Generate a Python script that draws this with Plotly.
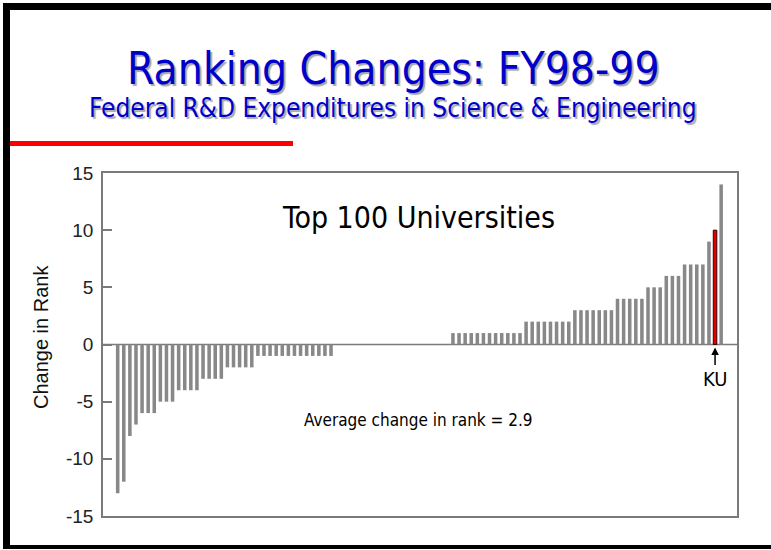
import plotly.graph_objects as go

# ---------------- data ----------------
rank_change = [
    -13, -12, -8, -7, -6, -6, -6, -5, -5, -5,
    -4, -4, -4, -4, -3, -3, -3, -3, -2, -2,
    -2, -2, -2, -1, -1, -1, -1, -1, -1, -1,
    -1, -1, -1, -1, -1, -1, 0, 0, 0, 0,
    0, 0, 0, 0, 0, 0, 0, 0, 0, 0,
    0, 0, 0, 0, 0, 1, 1, 1, 1, 1,
    1, 1, 1, 1, 1, 1, 1, 2, 2, 2,
    2, 2, 2, 2, 2, 3, 3, 3, 3, 3,
    3, 3, 4, 4, 4, 4, 4, 5, 5, 5,
    6, 6, 6, 7, 7, 7, 7, 9, 10, 14,
]
university_index = list(range(len(rank_change)))
highlight_label = "KU"
highlight_index = 98

y_ticks = [15, 10, 5, 0, -5, -10, -15]

title_text = "Ranking Changes: FY98-99"
subtitle_text = "Federal R&amp;D Expenditures in Science &amp; Engineering"
panel_text = "Top 100 Universities"
avg_text = "Average change in rank = 2.9"
y_title = "Change in Rank"

# ---------------- layout helpers ----------------
W, H = 771, 550
L, R, T, B = 103, 737, 173, 516


def px(x):
    return (x - L) / (R - L)


def py(y):
    return (B - y) / (B - T)


colors = ["#e00000" if i == highlight_index else "#888888" for i in university_index]
line_colors = ["#3a0000" if i == highlight_index else "rgba(0,0,0,0)" for i in university_index]
line_widths = [1 if i == highlight_index else 0 for i in university_index]

fig = go.Figure()
fig.add_trace(go.Bar(
    x=university_index,
    y=rank_change,
    width=0.58,
    marker=dict(color=colors, line=dict(color=line_colors, width=line_widths)),
    hoverinfo="x+y",
))

head_font = "DejaVu Sans Condensed, DejaVu Sans, sans-serif"
arial = "Liberation Sans, Arial, sans-serif"
shadow = "2px 2px 1px #a8a8a8"

annotations = [
    dict(x=px(393), y=py(68), xref="paper", yref="paper", text=title_text,
         showarrow=False,
         font=dict(family=head_font, size=44, color="#0000cc", shadow=shadow),
         xanchor="center", yanchor="middle"),
    dict(x=px(393), y=py(108), xref="paper", yref="paper", text=subtitle_text,
         showarrow=False,
         font=dict(family=head_font, size=26, color="#0000cc", shadow=shadow),
         xanchor="center", yanchor="middle"),
    dict(x=px(418), y=py(217), xref="paper", yref="paper", text=panel_text,
         showarrow=False, font=dict(family=head_font, size=30, color="#000000"),
         xanchor="center", yanchor="middle"),
    dict(x=px(418), y=py(420), xref="paper", yref="paper", text=avg_text,
         showarrow=False, font=dict(family=head_font, size=17, color="#000000"),
         xanchor="center", yanchor="middle"),
    dict(x=px(41), y=py(337), xref="paper", yref="paper", text=y_title,
         showarrow=False, textangle=-90,
         font=dict(family=arial, size=20, color="#111111"),
         xanchor="center", yanchor="middle"),
    dict(x=highlight_index, y=0, xref="x", yref="y", text=highlight_label,
         showarrow=True, ax=0, ay=34, arrowhead=2, arrowsize=1, arrowwidth=1.5,
         arrowcolor="#000000", standoff=3,
         font=dict(family=head_font, size=20, color="#000000")),
]

shapes = [
    # zero line
    dict(type="line", xref="paper", yref="y", x0=0, x1=1, y0=0, y1=0,
         line=dict(color="#7a7a7a", width=1.5), layer="below"),
    # red rule under title
    dict(type="rect", xref="paper", yref="paper", x0=px(10), x1=px(293),
         y0=py(146), y1=py(141), fillcolor="#ff0000", line=dict(width=0)),
    # slide border: top, left, bottom
    dict(type="rect", xref="paper", yref="paper", x0=px(3), x1=px(771),
         y0=py(10), y1=py(3), fillcolor="#000000", line=dict(width=0)),
    dict(type="rect", xref="paper", yref="paper", x0=px(3), x1=px(10),
         y0=py(549), y1=py(3), fillcolor="#000000", line=dict(width=0)),
    dict(type="rect", xref="paper", yref="paper", x0=px(3), x1=px(771),
         y0=py(549), y1=py(545), fillcolor="#000000", line=dict(width=0)),
]

fig.update_layout(
    width=W, height=H,
    margin=dict(l=L, r=W - R, t=T, b=H - B, pad=0),
    paper_bgcolor="#ffffff", plot_bgcolor="#ffffff",
    showlegend=False,
    bargap=0.4,
    annotations=annotations,
    shapes=shapes,
    xaxis=dict(range=[-2.41, 101.6], showticklabels=False, ticks="",
               showgrid=False, zeroline=False, showline=True, mirror=True,
               linecolor="#7a7a7a", linewidth=1.5, fixedrange=True),
    yaxis=dict(range=[-15, 15], tickvals=y_ticks, ticktext=[str(v) for v in y_ticks],
               ticks="inside", ticklen=9, tickcolor="#7a7a7a", tickwidth=1.5,
               showgrid=False, zeroline=False, showline=True, mirror=True,
               linecolor="#7a7a7a", linewidth=1.5,
               tickfont=dict(family=arial, size=19, color="#222222"),
               ticklabelstandoff=4, fixedrange=True),
)

fig.write_html(
    "out.html",
    config={"displayModeBar": False},
    post_script="document.body.style.margin='0';document.body.style.overflow='hidden';",
)
